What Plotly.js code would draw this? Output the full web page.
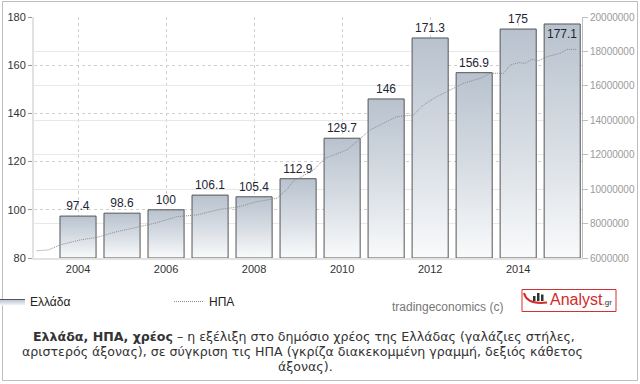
<!DOCTYPE html>
<html>
<head>
<meta charset="utf-8">
<script src="https://cdn.plot.ly/plotly-3.0.1.min.js"></script>
<style>
  html, body { margin: 0; padding: 0; background: #ffffff; }
  #chart { width: 640px; height: 384px; }
</style>
</head>
<body>
<div id="chart"></div>
<script>
// ---- data ----
const years = [2004, 2005, 2006, 2007, 2008, 2009, 2010, 2011, 2012, 2013, 2014, 2015];
const greeceDebt = [97.4, 98.6, 100, 106.1, 105.4, 112.9, 129.7, 146, 171.3, 156.9, 175, 177.1];
const greeceLabels = ["97.4", "98.6", "100", "106.1", "105.4", "112.9", "129.7", "146", "171.3", "156.9", "175", "177.1"];

const usDates = [2003.06, 2003.33, 2003.59, 2004.05, 2004.43, 2004.88, 2005.33, 2005.79, 2006.24, 2006.70,
                 2007.23, 2007.61, 2008.06, 2008.52, 2008.75, 2008.90, 2009.08, 2009.35, 2009.61, 2009.88,
                 2010.11, 2010.33, 2010.64, 2010.94, 2011.24, 2011.62, 2011.85, 2012.15, 2012.45, 2012.76,
                 2013.14, 2013.36, 2013.67, 2013.82, 2014.01, 2014.16, 2014.31, 2014.46, 2014.65, 2014.95,
                 2015.11, 2015.33];
const usDebt = [6420000, 6470000, 6760000, 7050000, 7200000, 7530000, 7780000, 8050000, 8400000, 8500000,
                8830000, 8950000, 9270000, 9470000, 10000000, 10500000, 10720000, 11110000, 11790000, 12080000,
                12280000, 12760000, 13440000, 13830000, 14210000, 14310000, 14890000, 15370000, 15760000, 16150000,
                16440000, 16730000, 16730000, 17210000, 17350000, 17310000, 17540000, 17460000, 17690000, 17890000,
                18120000, 18120000];

const xTicks = [2004, 2006, 2008, 2010, 2012, 2014];
const leftTicks = [80, 100, 120, 140, 160, 180];
const rightTicks = [6000000, 8000000, 10000000, 12000000, 14000000, 16000000, 18000000, 20000000];

const seriesNames = ["Ελλάδα", "ΗΠΑ"];
const captionBold = "Ελλάδα, ΗΠΑ, χρέος";
const captionLines = [
  " – η εξέλιξη στο δημόσιο χρέος της Ελλάδας (γαλάζιες στήλες,",
  "αριστερός άξονας), σε σύγκριση τις ΗΠΑ (γκρίζα διακεκομμένη γραμμή, δεξιός κάθετος",
  "άξονας)."
];
const sourceText = "tradingeconomics (c)";

// ---- layout helpers (pixel -> paper) ----
const W = 640, H = 384, ML = 34, MR = 58, MT = 17, MB = 126;
const PW = W - ML - MR, PH = H - MT - MB;
const X = px => (px - ML) / PW;
const Y = py => (H - MB - py) / PH;

const leftRange = [80, 180];
const barWidth = 0.82;

// ---- traces ----
const traces = [];
years.forEach((yr, i) => {
  const v = greeceDebt[i];
  const x0 = yr - barWidth / 2, x1 = yr + barWidth / 2;
  traces.push({
    type: 'scatter', mode: 'lines',
    x: [x0, x0, x1, x1, x0],
    y: [leftRange[0], v, v, leftRange[0], leftRange[0]],
    fill: 'toself',
    fillcolor: '#d3d9e0',
    fillgradient: { type: 'vertical', colorscale: [[0, '#f9fafb'], [0.5, '#d6dce3'], [1, '#b8c2ce']] },
    line: { color: '#555555', width: 1 },
    name: seriesNames[0],
    legendgroup: 'gr',
    showlegend: i === 0,
    hoverinfo: 'skip',
    xaxis: 'x', yaxis: 'y'
  });
});

traces.push({
  type: 'bar',
  x: years, y: greeceDebt,
  width: barWidth,
  text: greeceLabels,
  textposition: greeceDebt.map((v, i) => i === greeceDebt.length - 1 ? 'inside' : 'outside'),
  insidetextanchor: 'end',
  textangle: 0,
  constraintext: 'none',
  cliponaxis: false,
  textfont: { family: 'Liberation Sans, Arial, sans-serif', size: 12, color: '#1e2633' },
  marker: { color: 'rgba(0,0,0,0)', line: { width: 0 } },
  name: seriesNames[0],
  legendgroup: 'gr',
  showlegend: false,
  hovertemplate: '%{x}: %{y}<extra>' + seriesNames[0] + '</extra>',
  xaxis: 'x', yaxis: 'y3'
});

traces.push({
  type: 'scatter', mode: 'lines',
  x: usDates, y: usDebt,
  line: { color: '#8c8c8c', width: 1, dash: '1px,1px' },
  name: seriesNames[1],
  xaxis: 'x', yaxis: 'y2'
});

// ---- annotations & shapes ----
const font = 'Liberation Sans, Arial, sans-serif';
const capFont = 'DejaVu Sans, Verdana, sans-serif';
const capSize = 12.6;
const annotations = [
  { xref: 'paper', yref: 'paper', x: X(390), y: Y(306.5), xanchor: 'left', yanchor: 'middle',
    text: sourceText, showarrow: false, font: { family: font, size: 12, color: '#777777' } },
  { xref: 'paper', yref: 'paper', x: X(548), y: Y(299), xanchor: 'left', yanchor: 'middle',
    text: '<span style="color:#d42a2a">Analyst</span><span style="font-size:8px;color:#333333">.gr</span>',
    showarrow: false, font: { family: 'Liberation Sans Narrow, Liberation Sans, Arial, sans-serif', size: 16, color: '#d42a2a' } },
  { xref: 'paper', yref: 'paper', x: X(304), y: Y(336), xanchor: 'center', yanchor: 'middle',
    text: '<b>' + captionBold + '</b>' + captionLines[0], showarrow: false,
    font: { family: capFont, size: capSize, color: '#333333' } },
  { xref: 'paper', yref: 'paper', x: X(302), y: Y(351), xanchor: 'center', yanchor: 'middle',
    text: captionLines[1], showarrow: false, font: { family: capFont, size: capSize, color: '#333333' } },
  { xref: 'paper', yref: 'paper', x: X(305), y: Y(366), xanchor: 'center', yanchor: 'middle',
    text: captionLines[2], showarrow: false, font: { family: capFont, size: capSize, color: '#333333' } }
];

const shapes = [
  { type: 'rect', xref: 'paper', yref: 'paper', x0: X(2.5), x1: X(637.5), y0: Y(1.5), y1: Y(380.5),
    line: { color: '#bdbdbd', width: 1 }, fillcolor: 'rgba(0,0,0,0)', layer: 'below' },
  { type: 'rect', xref: 'paper', yref: 'paper', x0: X(522), x1: X(616), y0: Y(289.5), y1: Y(311.5),
    line: { color: '#d43030', width: 1 }, fillcolor: '#ffffff' },
  // logo icon: small bars and swoosh
  { type: 'rect', xref: 'paper', yref: 'paper', x0: X(533), x1: X(535.5), y0: Y(301), y1: Y(296),
    line: { width: 0 }, fillcolor: '#333333' },
  { type: 'rect', xref: 'paper', yref: 'paper', x0: X(537), x1: X(539.5), y0: Y(301), y1: Y(293),
    line: { width: 0 }, fillcolor: '#333333' },
  { type: 'rect', xref: 'paper', yref: 'paper', x0: X(541), x1: X(543.5), y0: Y(301), y1: Y(294.5),
    line: { width: 0 }, fillcolor: '#333333' },
  { type: 'path', xref: 'paper', yref: 'paper',
    path: `M ${X(524)} ${Y(293)} Q ${X(527)} ${Y(305)} ${X(547)} ${Y(302.5)}`,
    line: { color: '#d42a2a', width: 2 } }
];

const axisFont = { family: font, size: 11, color: '#333333' };

const layout = {
  width: W, height: H,
  margin: { l: ML, r: MR, t: MT, b: MB, pad: 0, autoexpand: false },
  paper_bgcolor: '#ffffff', plot_bgcolor: '#ffffff',
  font: { family: font, size: 12, color: '#222222' },
  showlegend: true,
  legend: {
    orientation: 'h', x: X(-10), xanchor: 'left', y: Y(287), yanchor: 'top',
    entrywidth: 134, entrywidthmode: 'pixels', itemwidth: 30,
    font: { family: font, size: 12, color: '#222222' },
    bgcolor: 'rgba(0,0,0,0)', borderwidth: 0, traceorder: 'normal'
  },
  xaxis: {
    range: [2003, 2015.45], tickvals: xTicks, ticktext: xTicks.map(String),
    showgrid: true, gridcolor: '#d0d0d0', griddash: 'dot', gridwidth: 1,
    showline: true, linecolor: '#e2e2e2', linewidth: 2,
    ticks: '', tickfont: axisFont, zeroline: false, fixedrange: true, automargin: false
  },
  yaxis: {
    range: leftRange, tickvals: leftTicks,
    showgrid: true, gridcolor: '#cfcfcf', griddash: 'dot', gridwidth: 1,
    showline: true, linecolor: '#e2e2e2', linewidth: 2,
    ticks: 'outside', ticklen: 4, tickcolor: '#9a9a9a', tickwidth: 1,
    tickfont: axisFont, zeroline: false, fixedrange: true, automargin: false
  },
  yaxis2: {
    overlaying: 'y', side: 'right', range: [6000000, 20000000], tickvals: rightTicks,
    tickformat: 'd',
    showgrid: true, gridcolor: '#e8e8e8', gridwidth: 1,
    showline: true, linecolor: '#bdbdbd', linewidth: 1,
    ticks: 'outside', ticklen: 5, tickcolor: '#bdbdbd', tickwidth: 1,
    tickfont: { family: font, size: 10, color: '#9a9a9a' }, zeroline: false, fixedrange: true, automargin: false
  },
  yaxis3: {
    overlaying: 'y', range: leftRange, visible: false, showgrid: false, zeroline: false, fixedrange: true
  },
  annotations: annotations,
  shapes: shapes,
  hovermode: 'closest'
};

Plotly.newPlot('chart', traces, layout, { displayModeBar: false, staticPlot: false });
</script>
</body>
</html>
